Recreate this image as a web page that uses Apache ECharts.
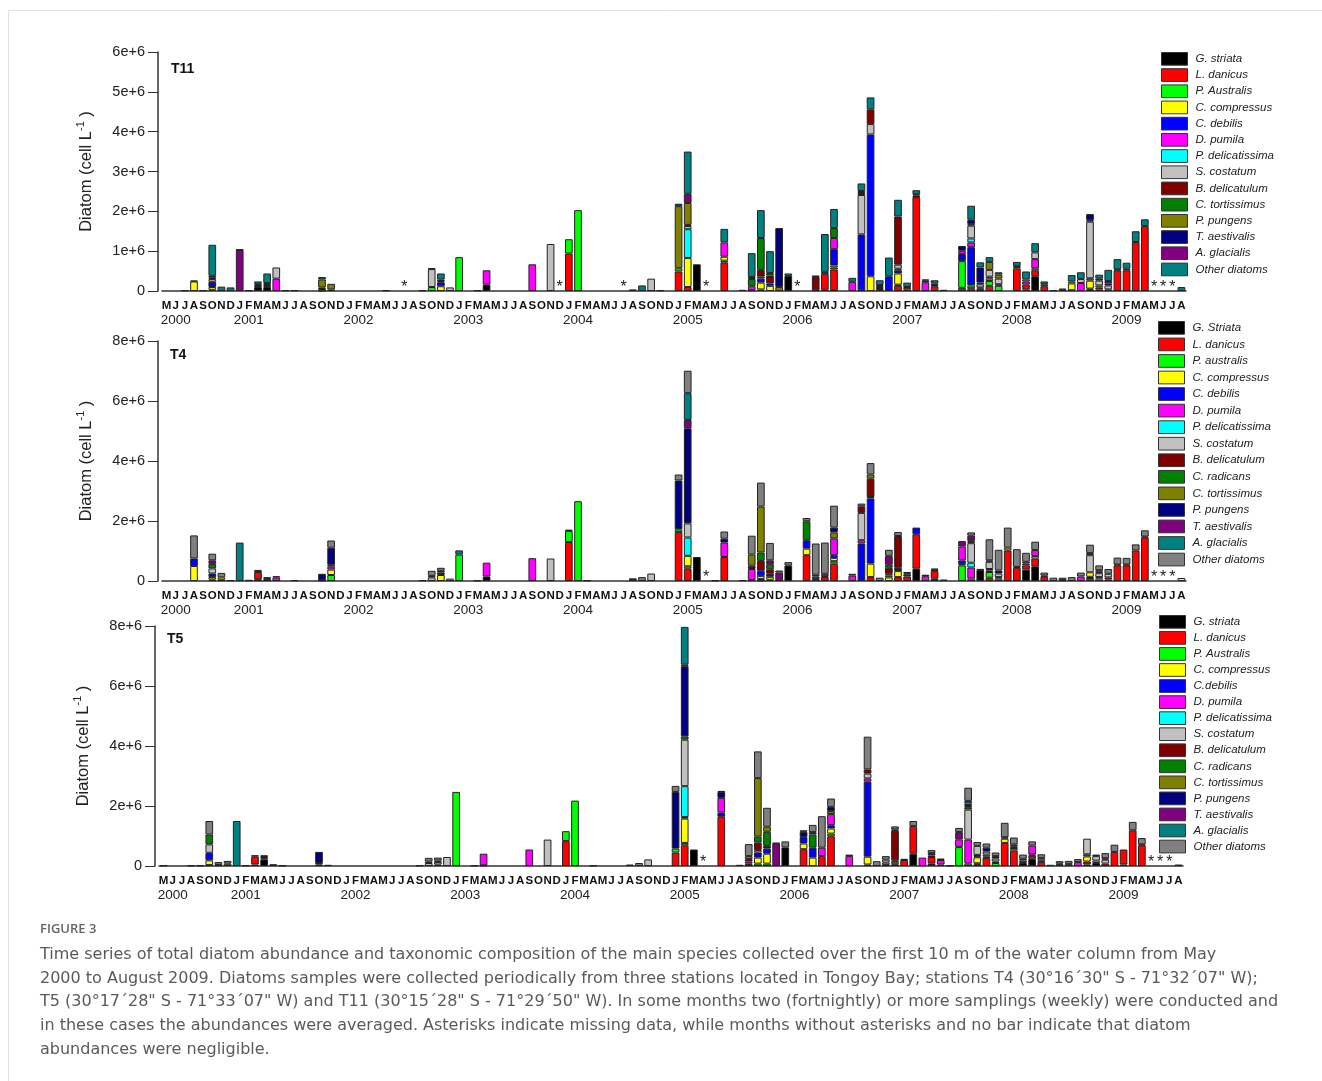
<!DOCTYPE html>
<html>
<head>
<meta charset="utf-8">
<script src="https://cdn.jsdelivr.net/npm/echarts@6/dist/echarts.min.js"></script>
<style>
html,body{margin:0;padding:0;background:#fff;}
#chart{width:1322px;height:1081px;}
</style>
</head>
<body>
<div id="chart"></div>
<script>
// months May 2000 .. Aug 2009
const monthLetters = ['J','F','M','A','M','J','J','A','S','O','N','D'];
const months = [];
for (let y = 2000; y <= 2009; y++) {
    for (let m = 1; m <= 12; m++) {
        if ((y === 2000 && m < 5) || (y === 2009 && m > 8)) continue;
        months.push(y + '-' + (m < 10 ? '0' + m : m));
    }
}
// the year is written under these months
const yearLabelMonths = ['2000-06','2001-02','2002-02','2003-02','2004-02','2005-02','2006-02','2007-02','2008-02','2009-02'];

// stack order, bottom -> top
const t11Codes = ['Gs','Ld','Pa','Cc','Cd','Dp','Pd','Sc','Bd','Ct','Pp','Ta','Ag','Od'];
const t11Names = ['G. striata','L. danicus','P. Australis','C. compressus','C. debilis','D. pumila','P. delicatissima','S. costatum','B. delicatulum','C. tortissimus','P. pungens','T. aestivalis','A. glacialis','Other diatoms'];
const t4Codes = ['Gs','Ld','Pa','Cc','Cd','Dp','Pd','Sc','Bd','Cr','Ct','Pp','Ta','Ag','Od'];
const t4Names = ['G. Striata','L. danicus','P. australis','C. compressus','C. debilis','D. pumila','P. delicatissima','S. costatum','B. delicatulum','C. radicans','C. tortissimus','P. pungens','T. aestivalis','A. glacialis','Other diatoms'];
const t5Names = ['G. striata','L. danicus','P. Australis','C. compressus','C.debilis','D. pumila','P. delicatissima','S. costatum','B. delicatulum','C. radicans','C. tortissimus','P. pungens','T. aestivalis','A. glacialis','Other diatoms'];
const palette = ['#000000','#ff0000','#00ff00','#ffff00','#0000ff','#ff00ff','#00ffff','#c0c0c0','#800000','#008000','#808000','#000080','#800080','#008080','#808080'];

// abundances in 1e6 cell/L
const t11Bars = [
    ['2000-07', {Gs: .02}],
    ['2000-08', {Cc: .24, Sc: .02}],
    ['2000-09', {Od: .02}],
    ['2000-10', {Gs: .03, Cc: .07, Cd: .13, Sc: .07, Ta: .03, Ag: .05, Od: .78}],
    ['2000-11', {Od: .11}],
    ['2000-12', {Od: .09}],
    ['2001-01', {Ag: 1.03, Od: .01}],
    ['2001-02', {Gs: .02}],
    ['2001-03', {Gs: .10, Ld: .05, Bd: .03, Od: .06}],
    ['2001-04', {Gs: .10, Ld: .05, Ta: .05, Od: .24}],
    ['2001-05', {Dp: .31, Sc: .28}],
    ['2001-06', {Od: .02}],
    ['2001-07', {Od: .02}],
    ['2001-10', {Gs: .01, Cc: .04, Dp: .04, Pp: .20, Od: .06}],
    ['2001-11', {Dp: .04, Pp: .14}],
    ['2002-05', {Gs: .02}],
    ['2002-09', {Od: .02}],
    ['2002-10', {Pa: .10, Sc: .45, Od: .02}],
    ['2002-11', {Cc: .12, Cd: .10, Sc: .03, Ta: .04, Od: .15}],
    ['2002-12', {Sc: .09}],
    ['2003-01', {Pa: .85}],
    ['2003-03', {Gs: .02}],
    ['2003-04', {Gs: .16, Dp: .36}],
    ['2003-09', {Dp: .67}],
    ['2003-11', {Sc: 1.18}],
    ['2004-01', {Ld: .94, Pa: .36}],
    ['2004-02', {Pa: 2.03}],
    ['2004-08', {Ag: .04}],
    ['2004-09', {Od: .14}],
    ['2004-10', {Sc: .31}],
    ['2004-11', {Od: .02}],
    ['2005-01', {Ld: .49, Pa: .08, Pp: 1.56, Od: .06}],
    ['2005-02', {Ld: .10, Cc: .73, Pd: .72, Sc: .08, Bd: .03, Pp: .55, Ag: .23, Od: 1.06}],
    ['2005-03', {Gs: .67}],
    ['2005-06', {Ld: .71, Pa: .05, Cc: .10, Dp: .36, Od: .34}],
    ['2005-08', {Od: .03}],
    ['2005-09', {Pa: .02, Dp: .10, Ct: .18, Ta: .05, Od: .60}],
    ['2005-10', {Pa: .04, Cc: .17, Cd: .10, Dp: .05, Bd: .17, Ct: .80, Od: .70}],
    ['2005-11', {Cc: .13, Cd: .06, Bd: .20, Ct: .06, Od: .55}],
    ['2005-12', {Pp: .10, Ta: 1.48}],
    ['2006-01', {Gs: .38, Od: .06}],
    ['2006-04', {Gs: .02, Bd: .33, Od: .04}],
    ['2006-05', {Gs: .03, Ld: .40, Ag: .05, Od: .95}],
    ['2006-06', {Gs: .02, Ld: .52, Pa: .05, Cc: .05, Cd: .41, Dp: .28, Ct: .25, Od: .48}],
    ['2006-08', {Dp: .23, Od: .10}],
    ['2006-09', {Ld: .02, Cd: 1.40, Sc: .99, Bd: .05, Ta: .05, Od: .19}],
    ['2006-10', {Cc: .37, Cd: 3.56, Sc: .26, Bd: .37, Od: .30}],
    ['2006-11', {Cc: .05, Ct: .05, Pp: .05, Od: .12}],
    ['2006-12', {Cd: .37, Od: .47}],
    ['2007-01', {Ld: .13, Pa: .03, Cc: .28, Cd: .08, Pd: .04, Sc: .10, Bd: 1.21, Od: .42}],
    ['2007-02', {Gs: .04, Ld: .06, Od: .11}],
    ['2007-03', {Ld: 2.36, Bd: .04, Ct: .03, Od: .10}],
    ['2007-04', {Dp: .22, Ta: .04, Od: .03}],
    ['2007-05', {Ld: .12, Pa: .03, Ct: .04, Od: .08}],
    ['2007-06', {Od: .03}],
    ['2007-08', {Ld: .08, Pa: .67, Cd: .18, Dp: .08, Ta: .12}],
    ['2007-09', {Ld: .07, Pa: .07, Cd: .96, Dp: .12, Pd: .10, Sc: .32, Pp: .04, Ta: .11, Od: .35}],
    ['2007-10', {Gs: .02, Pa: .04, Cc: .03, Sc: .08, Pp: .04, Ta: .38, Od: .13}],
    ['2007-11', {Ld: .13, Pa: .12, Cc: .06, Dp: .05, Sc: .17, Pp: .20, Od: .12}],
    ['2007-12', {Pa: .13, Dp: .04, Sc: .14, Pp: .10, Od: .06}],
    ['2008-02', {Ld: .56, Cc: .04, Bd: .03, Od: .10}],
    ['2008-03', {Gs: .04, Ld: .12, Dp: .08, Sc: .05, Od: .20}],
    ['2008-04', {Gs: .37, Ld: .15, Cc: .05, Dp: .23, Sc: .17, Od: .23}],
    ['2008-05', {Ld: .12, Dp: .05, Od: .07}],
    ['2008-06', {Od: .02}],
    ['2008-07', {Ta: .03, Ag: .03}],
    ['2008-08', {Pa: .02, Cc: .17, Sc: .05, Od: .16}],
    ['2008-09', {Dp: .20, Sc: .10, Od: .17}],
    ['2008-10', {Ld: .03, Pa: .03, Cc: .20, Dp: .06, Sc: 1.42, Pp: .04, Ta: .15}],
    ['2008-11', {Gs: .04, Ld: .05, Cc: .05, Sc: .12, Ta: .05, Od: .10}],
    ['2008-12', {Ld: .04, Sc: .10, Ta: .05, Ag: .06, Od: .28}],
    ['2009-01', {Ld: .52, Ag: .02, Od: .26}],
    ['2009-02', {Ld: .52, Bd: .04, Od: .15}],
    ['2009-03', {Ld: 1.23, Od: .27}],
    ['2009-04', {Ld: 1.63, Od: .17}],
    ['2009-08', {Od: .10}]
];

const t4Bars = [
    ['2000-08', {Cc: .50, Cd: .25, Od: .77}],
    ['2000-10', {Gs: .05, Cc: .08, Cd: .12, Sc: .17, Cr: .15, Ta: .12, Od: .22}],
    ['2000-11', {Gs: .04, Cc: .08, Od: .15}],
    ['2000-12', {Od: .03}],
    ['2001-01', {Ag: 1.28}],
    ['2001-02', {Od: .04}],
    ['2001-03', {Gs: .06, Ld: .24, Od: .07}],
    ['2001-04', {Gs: .07, Od: .06}],
    ['2001-05', {Dp: .12, Od: .04}],
    ['2001-07', {Od: .03}],
    ['2001-10', {Gs: .02, Pp: .22}],
    ['2001-11', {Pa: .20, Cc: .18, Dp: .10, Bd: .06, Pp: .57, Od: .24}],
    ['2002-09', {Od: .03}],
    ['2002-10', {Sc: .12, Cr: .05, Od: .17}],
    ['2002-11', {Cc: .20, Cd: .08, Pp: .06, Od: .10}],
    ['2002-12', {Sc: .08}],
    ['2003-01', {Pa: .88, Ag: .14}],
    ['2003-03', {Od: .02}],
    ['2003-04', {Gs: .15, Dp: .46}],
    ['2003-09', {Dp: .76}],
    ['2003-11', {Sc: .75}],
    ['2004-01', {Ld: 1.30, Pa: .37, Od: .04}],
    ['2004-02', {Pa: 2.66}],
    ['2004-03', {Od: .02}],
    ['2004-08', {Ta: .09}],
    ['2004-09', {Od: .13}],
    ['2004-10', {Sc: .25}],
    ['2005-01', {Ld: 1.63, Pa: .09, Pp: 1.63, Od: .20}],
    ['2005-02', {Ld: .41, Pa: .08, Cc: .35, Pd: .61, Sc: .47, Pp: 3.17, Ta: .28, Ag: .89, Od: .75}],
    ['2005-03', {Gs: .80}],
    ['2005-05', {Od: .02}],
    ['2005-06', {Ld: .80, Dp: .48, Pp: .13, Od: .24}],
    ['2005-08', {Od: .03}],
    ['2005-09', {Cd: .03, Dp: .37, Bd: .11, Ct: .37, Od: .63}],
    ['2005-10', {Gs: .02, Ld: .05, Cc: .10, Cd: .17, Bd: .33, Cr: .28, Ct: 1.53, Od: .80}],
    ['2005-11', {Ld: .04, Cc: .10, Cd: .10, Bd: .15, Cr: .17, Ta: .13, Od: .58}],
    ['2005-12', {Ta: .28, Od: .07}],
    ['2006-01', {Gs: .52, Od: .11}],
    ['2006-03', {Ld: .86, Cc: .22, Cd: .28, Cr: .63, Od: .11}],
    ['2006-04', {Cd: .07, Cr: .08, Ta: .06, Od: 1.04}],
    ['2006-05', {Ld: .13, Cd: .03, Dp: .08, Od: 1.04}],
    ['2006-06', {Ld: .58, Pa: .08, Cc: .11, Cd: .09, Dp: .56, Ct: .20, Pp: .16, Od: .73}],
    ['2006-08', {Dp: .18, Od: .06}],
    ['2006-09', {Cd: 1.25, Dp: .11, Sc: .91, Bd: .22, Od: .09}],
    ['2006-10', {Ld: .13, Cc: .45, Cd: 2.17, Sc: .05, Bd: .61, Ct: .14, Od: .38}],
    ['2006-11', {Od: .11}],
    ['2006-12', {Cc: .12, Pd: .06, Sc: .06, Bd: .20, Cr: .10, Ta: .30, Od: .20}],
    ['2007-01', {Ld: .13, Cc: .20, Cd: .11, Bd: 1.06, Od: .13}],
    ['2007-02', {Ld: .15, Cr: .06, Ag: .05, Od: .04}],
    ['2007-03', {Gs: .41, Ld: 1.15, Cd: .22}],
    ['2007-04', {Dp: .16, Pp: .05}],
    ['2007-05', {Gs: .08, Ld: .25, Pp: .05, Od: .03}],
    ['2007-06', {Ta: .05}],
    ['2007-08', {Pa: .52, Cc: .05, Cd: .11, Dp: .47, Ta: .18}],
    ['2007-09', {Pa: .08, Dp: .37, Pd: .16, Sc: .65, Ct: .05, Pp: .03, Ta: .17, Od: .11}],
    ['2007-10', {Gs: .37, Pp: .03}],
    ['2007-11', {Ld: .11, Pa: .19, Cc: .05, Cd: .05, Sc: .24, Pp: .05, Od: .70}],
    ['2007-12', {Pa: .08, Cc: .05, Sc: .12, Pp: .10, Od: .69}],
    ['2008-01', {Ld: 1.02, Cc: .09, Od: .67}],
    ['2008-02', {Ld: .44, Cr: .03, Od: .59}],
    ['2008-03', {Gs: .38, Ld: .14, Dp: .06, Sc: .06, Od: .30}],
    ['2008-04', {Gs: .49, Ld: .26, Cc: .08, Dp: .20, Od: .28}],
    ['2008-05', {Ld: .14, Bd: .04, Od: .10}],
    ['2008-06', {Od: .11}],
    ['2008-07', {Gs: .03, Od: .08}],
    ['2008-08', {Od: .13}],
    ['2008-09', {Dp: .15, Od: .13}],
    ['2008-10', {Ld: .10, Pa: .04, Cc: .15, Sc: .57, Ta: .07, Od: .28}],
    ['2008-11', {Cc: .08, Dp: .05, Sc: .13, Pp: .05, Ta: .05, Od: .16}],
    ['2008-12', {Gs: .05, Ld: .07, Sc: .12, Od: .16}],
    ['2009-01', {Ld: .52, Pp: .03, Od: .23}],
    ['2009-02', {Ld: .52, Pp: .03, Od: .22}],
    ['2009-03', {Ld: 1.02, Od: .20}],
    ['2009-04', {Ld: 1.45, Pp: .03, Od: .21}],
    ['2009-08', {Cc: .10}]
];

const t5Bars = [
    ['2000-05', {Od: .02}],
    ['2000-08', {Od: .02}],
    ['2000-09', {Od: .02}],
    ['2000-10', {Gs: .03, Cc: .16, Cd: .25, Sc: .28, Cr: .33, Od: .45}],
    ['2000-11', {Gs: .03, Ct: .10}],
    ['2000-12', {Ct: .08, Od: .09}],
    ['2001-01', {Ag: 1.50}],
    ['2001-02', {Od: .02}],
    ['2001-03', {Gs: .05, Ld: .26, Od: .05}],
    ['2001-04', {Gs: .22, Ld: .04, Bd: .04, Od: .06}],
    ['2001-05', {Ta: .06}],
    ['2001-06', {Od: .02}],
    ['2001-10', {Pd: .05, Cr: .05, Pp: .37}],
    ['2001-11', {Gs: .04}],
    ['2002-09', {Od: .02}],
    ['2002-10', {Sc: .10, Ta: .05, Od: .12}],
    ['2002-11', {Gs: .05, Cc: .08, Sc: .05, Od: .10}],
    ['2002-12', {Sc: .30}],
    ['2003-01', {Pa: 2.47}],
    ['2003-03', {Od: .02}],
    ['2003-04', {Gs: .02, Dp: .39}],
    ['2003-09', {Dp: .55}],
    ['2003-11', {Sc: .88}],
    ['2004-01', {Ld: .83, Pa: .33}],
    ['2004-02', {Pa: 2.18}],
    ['2004-04', {Od: .02}],
    ['2004-08', {Ta: .05}],
    ['2004-09', {Od: .10}],
    ['2004-10', {Sc: .22}],
    ['2005-01', {Ld: .45, Pa: .13, Pp: 1.89, Od: .20}],
    ['2005-02', {Ld: .69, Pa: .08, Cc: .81, Cd: .05, Pd: 1.03, Sc: 1.55, Cr: .11, Pp: 2.34, Ta: .05, Ag: 1.26}],
    ['2005-03', {Gs: .55}],
    ['2005-06', {Ld: 1.64, Cd: .14, Dp: .49, Pp: .20, Od: .03}],
    ['2005-08', {Od: .04}],
    ['2005-09', {Gs: .03, Cd: .05, Dp: .07, Bd: .08, Ct: .10, Od: .40}],
    ['2005-10', {Pa: .08, Cc: .20, Cd: .17, Sc: .08, Bd: .25, Cr: .20, Ct: 1.95, Od: .89}],
    ['2005-11', {Pa: .08, Cc: .33, Cd: .17, Bd: .09, Cr: .47, Ct: .17, Od: .63}],
    ['2005-12', {Ta: .75, Od: .02}],
    ['2006-01', {Gs: .62, Od: .20}],
    ['2006-03', {Ld: .56, Cc: .19, Cd: .22, Pp: .17, Od: .05}],
    ['2006-04', {Cc: .28, Cd: .33, Cr: .44, Ta: .08, Od: .24}],
    ['2006-05', {Ld: .33, Dp: .28, Od: 1.05}],
    ['2006-06', {Ld: .99, Pa: .09, Cc: .17, Cd: .11, Dp: .37, Ct: .10, Pp: .14, Od: .28}],
    ['2006-08', {Dp: .33, Od: .05}],
    ['2006-10', {Ld: .05, Cc: .26, Cd: 2.50, Dp: .11, Sc: .16, Bd: .14, Od: 1.09}],
    ['2006-11', {Od: .16}],
    ['2006-12', {Gs: .03, Cc: .08, Sc: .10, Od: .12}],
    ['2007-01', {Ld: .06, Cc: .08, Cd: .05, Bd: .98, Ag: .05, Od: .10}],
    ['2007-02', {Ld: .20, Cr: .04}],
    ['2007-03', {Gs: .41, Ld: .92, Od: .17}],
    ['2007-04', {Dp: .28}],
    ['2007-05', {Gs: .08, Ld: .22, Pp: .05, Ta: .08, Od: .10}],
    ['2007-06', {Ld: .05, Dp: .15, Pp: .05}],
    ['2007-07', {Od: .02}],
    ['2007-08', {Pa: .63, Dp: .26, Ta: .24, Od: .14}],
    ['2007-09', {Pa: .08, Dp: .80, Sc: 1.00, Cr: .08, Pp: .04, Ta: .08, Ag: .09, Od: .44}],
    ['2007-10', {Gs: .04, Ld: .05, Cc: .20, Cd: .03, Dp: .05, Sc: .30, Od: .13}],
    ['2007-11', {Ld: .27, Pa: .05, Cc: .06, Sc: .10, Pp: .13, Od: .14}],
    ['2007-12', {Pa: .10, Cc: .05, Sc: .10, Pp: .08, Od: .12}],
    ['2008-01', {Ld: .77, Cc: .14, Ta: .05, Od: .48}],
    ['2008-02', {Ld: .52, Pa: .08, Cc: .06, Pp: .06, Od: .23}],
    ['2008-03', {Gs: .10, Ld: .08, Dp: .06, Od: .14}],
    ['2008-04', {Gs: .24, Ld: .10, Cc: .04, Dp: .30, Od: .14}],
    ['2008-05', {Ld: .13, Dp: .06, Sc: .08, Od: .12}],
    ['2008-06', {Gs: .04}],
    ['2008-07', {Ct: .04, Ta: .04, Od: .08}],
    ['2008-08', {Sc: .07, Od: .10}],
    ['2008-09', {Dp: .13, Od: .10}],
    ['2008-10', {Gs: .05, Ld: .10, Cc: .17, Dp: .07, Sc: .52}],
    ['2008-11', {Gs: .10, Cc: .08, Sc: .15, Ta: .05}],
    ['2008-12', {Ld: .08, Sc: .13, Pp: .05, Od: .17}],
    ['2009-01', {Ld: .47, Od: .24}],
    ['2009-02', {Gs: .05, Ld: .50}],
    ['2009-03', {Ld: 1.19, Od: .28}],
    ['2009-04', {Ld: .69, Pp: .03, Od: .21}],
    ['2009-08', {Cc: .05}]
];

// months with missing data (asterisks)
const t11Missing = ['2002-07','2003-12','2004-07','2005-04','2006-02','2009-05','2009-06','2009-07'];
const t4Missing = ['2005-04','2009-05','2009-06','2009-07'];
const t5Missing = ['2005-04','2009-05','2009-06','2009-07'];

const stations = [
    {title: 'T11', bars: t11Bars, codes: t11Codes, names: t11Names, missing: t11Missing, max: 6, step: 1,
        grid: {left: 162, top: 52, width: 1024, height: 239}, legend: {left: 1161, top: 52, gap: 2.5}, titlePos: [171, 62]},
    {title: 'T4', bars: t4Bars, codes: t4Codes, names: t4Names, missing: t4Missing, max: 8, step: 2,
        grid: {left: 162, top: 341, width: 1024, height: 240}, legend: {left: 1158, top: 321, gap: 2.85}, titlePos: [170, 348]},
    {title: 'T5', bars: t5Bars, codes: t4Codes, names: t5Names, missing: t5Missing, max: 8, step: 2,
        grid: {left: 159, top: 626, width: 1024, height: 240}, legend: {left: 1159, top: 615, gap: 2.35}, titlePos: [167, 632]}
];

const monthLabel = v => {
    let letter = monthLetters[parseInt(v.slice(5), 10) - 1];
    if (yearLabelMonths.indexOf(v) >= 0) return '{m|' + letter + '}\n{y|' + v.slice(0, 4) + '}';
    return '{m|' + letter + '}';
};

// asterisk drawn just above the baseline of a missing month
const renderAsterisk = (params, api) => {
    let p = api.coord([api.value(0), 0]);
    return {
        type: 'text', x: p[0], y: p[1] - 11,
        style: {text: '*', fill: '#222', font: '16px "Liberation Sans"', align: 'center', verticalAlign: 'top'}
    };
};

let grids = [], xAxes = [], yAxes = [], legends = [], titles = [], series = [];

stations.forEach((st, a) => {
    grids.push(st.grid);
    titles.push({text: st.title, left: st.titlePos[0], top: st.titlePos[1], padding: 0,
        textStyle: {fontSize: 14, fontWeight: 'bold', color: '#111', fontFamily: 'Liberation Sans'}});
    xAxes.push({
        type: 'category', gridIndex: a, data: months,
        axisLine: {lineStyle: {color: '#333', width: 1.5}},
        axisTick: {length: 5, lineStyle: {color: '#333'}},
        axisLabel: {
            interval: 0, margin: 7, formatter: monthLabel,
            rich: {
                m: {fontFamily: 'Liberation Sans', fontWeight: 'bold', fontSize: 11.5, lineHeight: 15, color: '#111'},
                y: {fontFamily: 'Liberation Sans', fontSize: 13.5, lineHeight: 14, color: '#222'}
            }
        }
    });
    yAxes.push({
        type: 'value', gridIndex: a, min: 0, max: st.max, interval: st.step, offset: 4,
        name: 'Diatom (cell L{s|-1} )', nameLocation: 'middle', nameGap: 61, nameRotate: 90,
        nameTextStyle: {fontFamily: 'Liberation Sans', fontSize: 16.5, color: '#222', lineHeight: 22,
            rich: {s: {fontFamily: 'Liberation Sans', fontSize: 11, color: '#222', verticalAlign: 'top', lineHeight: 12}}},
        axisLine: {show: true, lineStyle: {color: '#333', width: 1.5}},
        axisTick: {show: true, length: 10, lineStyle: {color: '#333'}},
        axisLabel: {margin: 13, fontFamily: 'Liberation Sans', fontSize: 14.5, color: '#222',
            formatter: v => v === 0 ? '0' : v + 'e+6'},
        splitLine: {show: false}
    });
    legends.push({
        orient: 'vertical', left: st.legend.left, top: st.legend.top, padding: 0,
        itemWidth: 26, itemHeight: 12.7, itemGap: st.legend.gap, icon: 'rect', selectedMode: false,
        itemStyle: {borderColor: '#333', borderWidth: 1},
        textStyle: {fontFamily: 'Liberation Sans', fontStyle: 'italic', fontSize: 11.5,
            color: '#222', padding: [0, 0, 0, 3]},
        data: st.names.map((n, k) => ({name: n, itemStyle: {color: palette[k]}}))
    });
    st.codes.forEach((code, k) => {
        let vals = months.map(() => null);
        st.bars.forEach(([m, parts]) => {
            if (parts[code]) vals[months.indexOf(m)] = parts[code];
        });
        series.push({
            type: 'bar', name: st.names[k], stack: 'st' + a, xAxisIndex: a, yAxisIndex: a,
            barWidth: '84%', data: vals, animation: false,
            itemStyle: {color: palette[k], borderColor: '#222', borderWidth: 1},
            emphasis: {disabled: true}
        });
    });
    series.push({
        type: 'custom', xAxisIndex: a, yAxisIndex: a, silent: true, animation: false,
        data: st.missing.map(m => [m, 0]), renderItem: renderAsterisk, z: 5
    });
});

const captionLines = [
    'Time series of total diatom abundance and taxonomic composition of the main species collected over the first 10 m of the water column from May',
    '2000 to August 2009. Diatoms samples were collected periodically from three stations located in Tongoy Bay; stations T4 (30°16´30" S - 71°32´07" W);',
    'T5 (30°17´28" S - 71°33´07" W) and T11 (30°15´28" S - 71°29´50" W). In some months two (fortnightly) or more samplings (weekly) were conducted and',
    'in these cases the abundances were averaged. Asterisks indicate missing data, while months without asterisks and no bar indicate that diatom',
    'abundances were negligible.'
];

let graphics = [
    {type: 'rect', shape: {x: 8.5, y: 10.5, width: 1400, height: 1200}, style: {fill: 'none', stroke: '#e2e2e2', lineWidth: 1}, silent: true},
    {type: 'text', left: 40, top: 923, style: {text: 'FIGURE 3', font: '600 13px "Open Sans"', fill: '#666'}}
];
captionLines.forEach((t, i) => {
    graphics.push({type: 'text', left: 40, top: 947 + i * 23.6, style: {text: t, font: '16px "DejaVu Sans"', fill: '#5a5a5a'}});
});

const chart = echarts.init(document.getElementById('chart'));
chart.setOption({
    backgroundColor: '#fff',
    animation: false,
    title: titles,
    grid: grids,
    xAxis: xAxes,
    yAxis: yAxes,
    legend: legends,
    series: series,
    graphic: graphics
});
</script>
</body>
</html>
